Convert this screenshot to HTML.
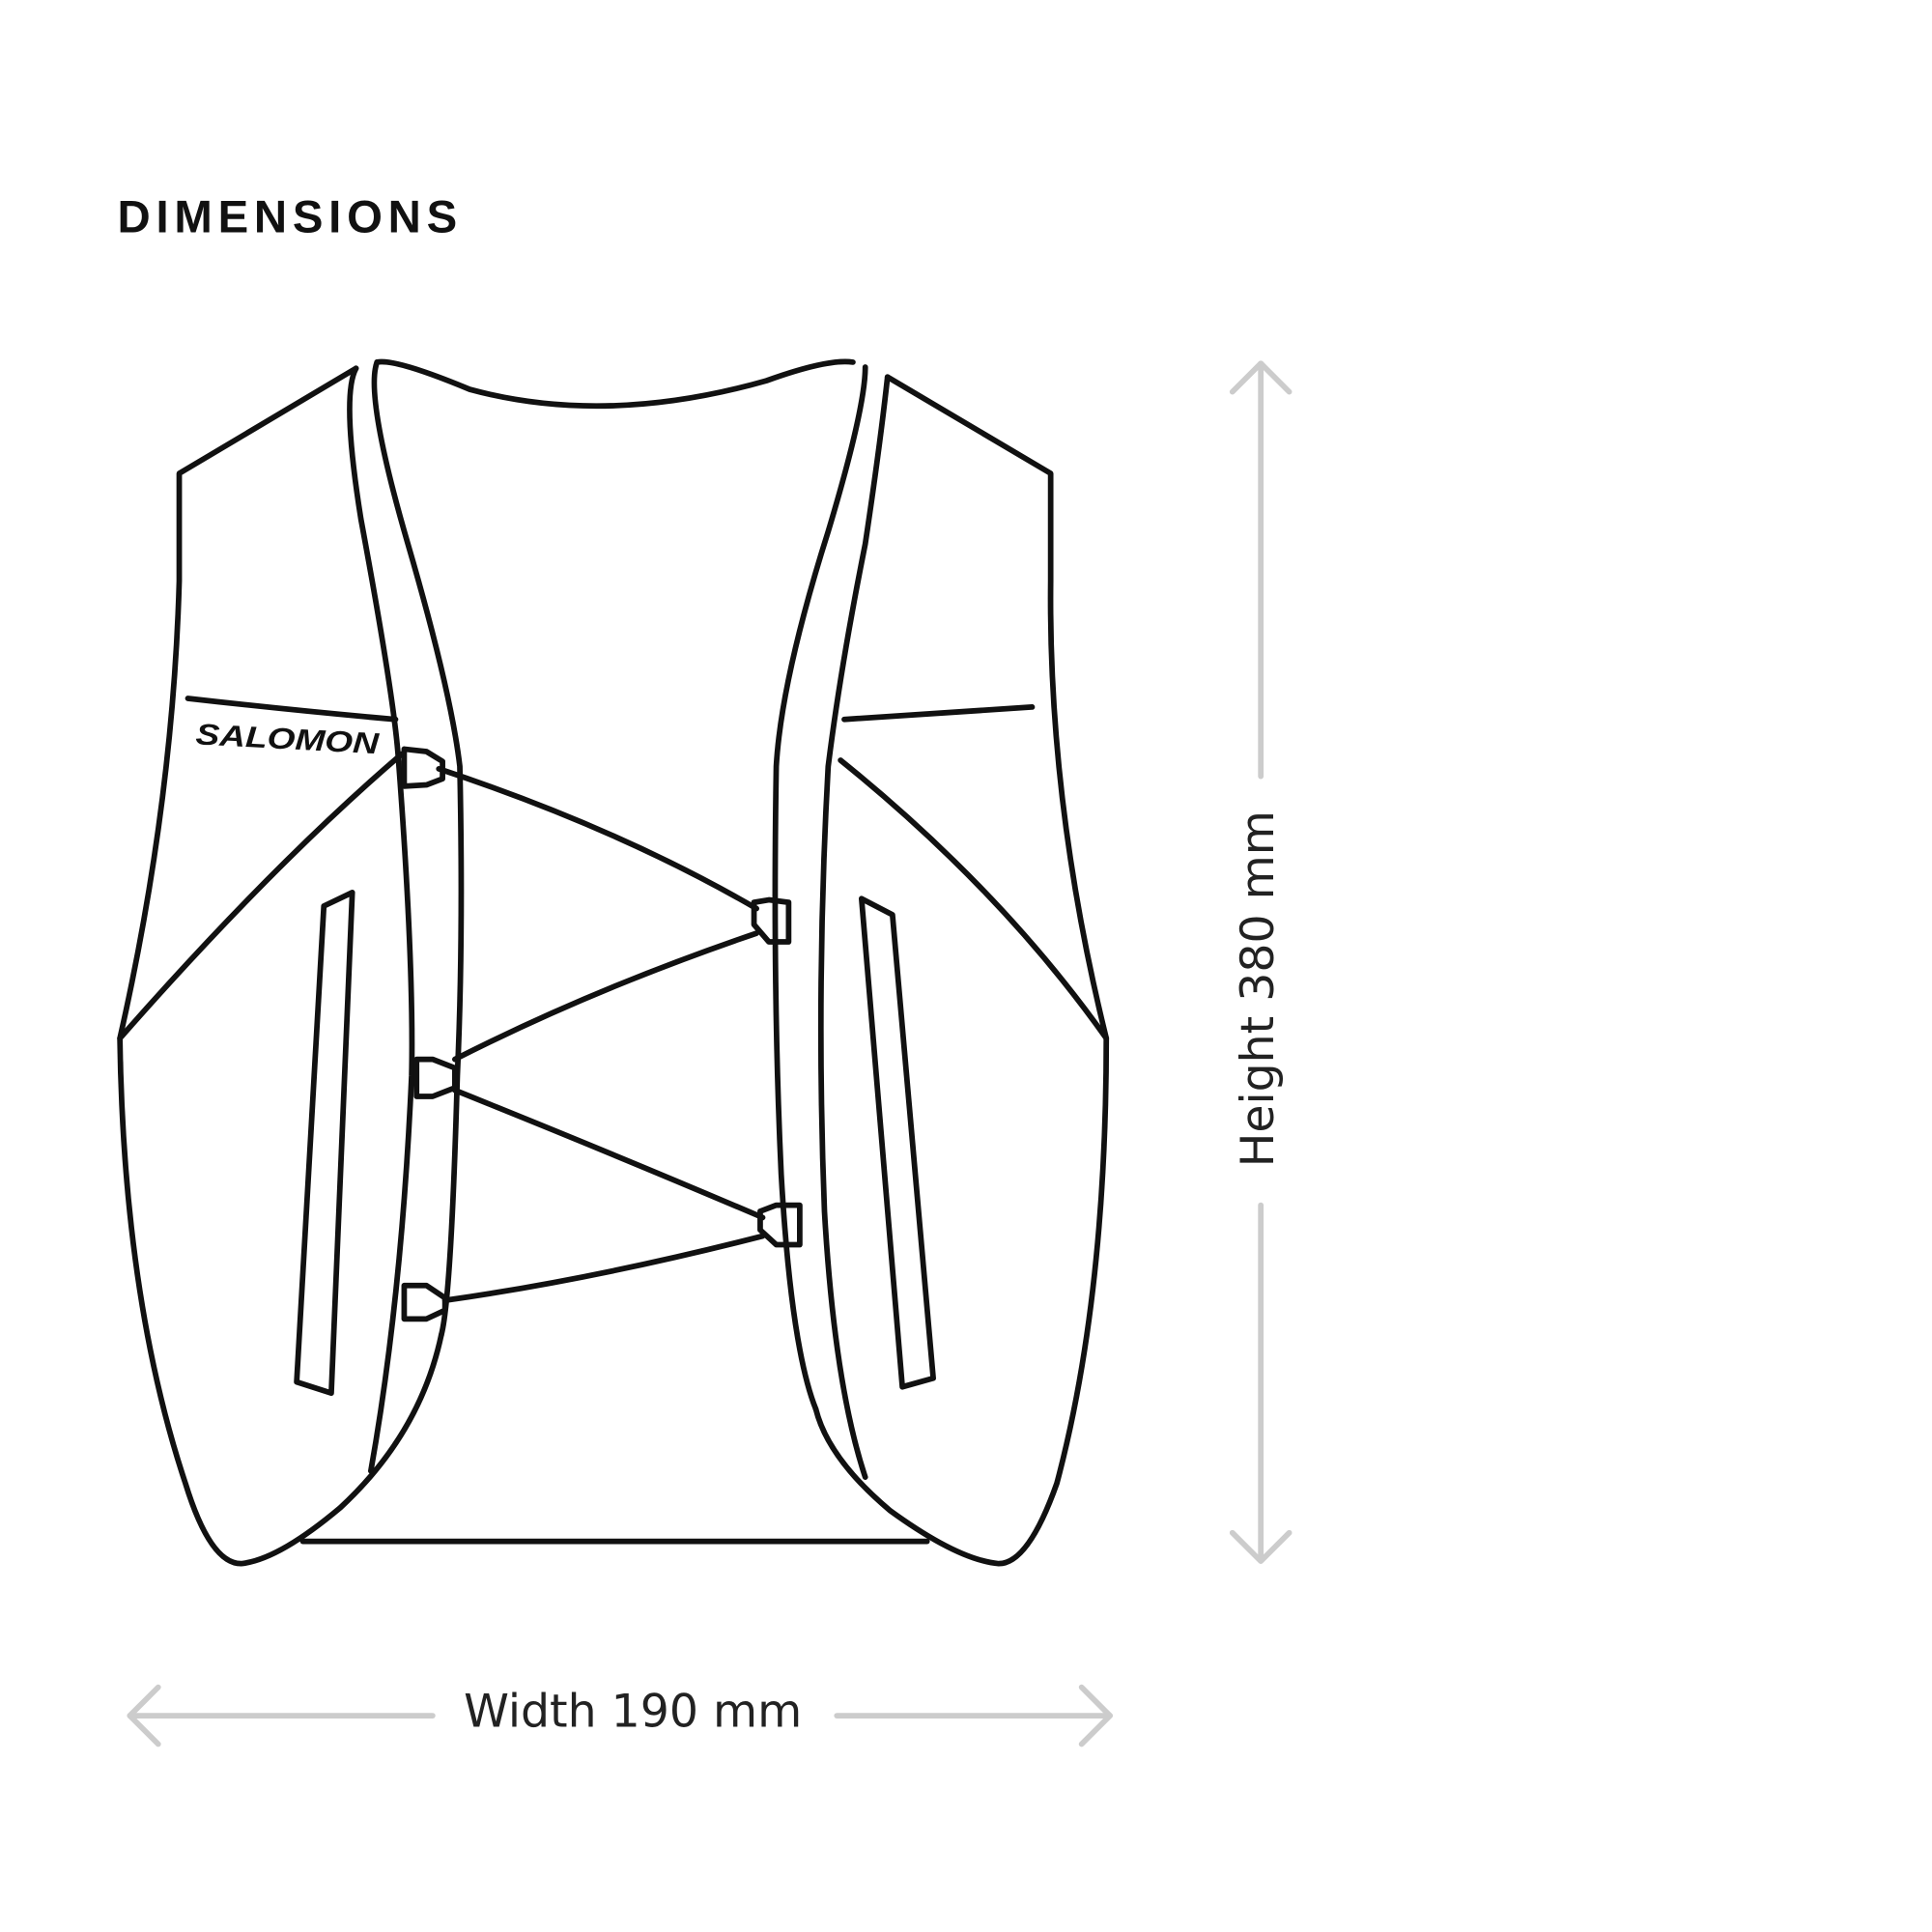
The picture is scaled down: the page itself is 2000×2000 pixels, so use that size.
<!DOCTYPE html>
<html><head><style>html,body{margin:0;padding:0;background:#fff}svg{display:block}</style></head>
<body>
<svg width="2000" height="2000" viewBox="0 0 1563 1563" xmlns="http://www.w3.org/2000/svg">
<text x="95" y="188" font-family="Liberation Sans, sans-serif" font-weight="bold" font-size="37" letter-spacing="4.5" fill="#111">DIMENSIONS</text>
<g fill="none" stroke="#111" stroke-width="4.5" stroke-linejoin="round" stroke-linecap="round">
<path d="M305,293 Q320,290 380,315 Q490,345 620,308 Q670,290 690,293"/>
<path d="M288,298 L145,383 L145,470 Q140,650 97,840 Q100,1050 150,1200 Q170,1265 195,1265 Q225,1262 275,1220 Q340,1160 357,1080"/>
<path d="M288,298 Q276,320 292,420 Q318,560 322,610 Q335,780 333,870 Q325,1050 300,1190"/>
<path d="M305,293 Q295,320 330,440 Q365,560 372,620 Q375,760 370,870 Q365,1050 357,1080"/>
<path d="M700,297 Q700,330 670,430 Q632,550 628,620 Q625,800 632,950 Q640,1090 660,1140"/>
<path d="M718,305 Q712,360 700,440 Q680,540 670,620 Q660,800 667,980 Q675,1120 700,1195"/>
<path d="M718,305 L850,383 L850,470 Q848,650 895,840 Q895,1050 855,1200 Q832,1265 808,1265 Q775,1262 720,1222 Q670,1180 660,1140"/>
<path d="M245,1247 L750,1247"/>
<path d="M152,565 Q240,575 320,582"/>
<path d="M683,582 L835,572"/>
<path d="M97,840 Q220,700 325,610"/>
<path d="M680,615 Q810,720 895,840"/>
<path d="M262,733 L285,722 L268,1127 L240,1118 Z"/>
<path d="M697,727 L722,740 L755,1115 L730,1122 Z"/>
<path d="M355,622 Q500,670 612,735"/>
<path d="M612,755 Q480,800 368,857"/>
<path d="M368,882 Q500,935 617,985"/>
<path d="M617,1000 Q480,1035 360,1052"/>
<path d="M327,606 L345,608 L358,616 L358,630 L345,635 L327,636 Z"/>
<path d="M610,730 L622,728 L638,730 L638,762 L622,762 L610,748 Z"/>
<path d="M337,857 L350,857 L368,864 L368,880 L350,887 L337,887 Z"/>
<path d="M615,980 L628,975 L647,975 L647,1007 L628,1007 L615,995 Z"/>
<path d="M327,1040 L345,1040 L360,1050 L360,1060 L345,1067 L327,1067 Z"/>
</g>
<text x="158" y="602" font-family="Liberation Sans, sans-serif" font-weight="bold" font-style="italic" font-size="24" fill="#111" textLength="148" lengthAdjust="spacingAndGlyphs" transform="rotate(3 158 602)">SALOMON</text>
<g fill="none" stroke="#ccc" stroke-width="4.5" stroke-linecap="round" stroke-linejoin="round">
<path d="M1020,294 L1020,628"/><path d="M1020,975 L1020,1262"/>
<path d="M997,317 L1020,294 L1043,317"/><path d="M997,1240 L1020,1263 L1043,1240"/>
<path d="M105,1388 L350,1388"/><path d="M677,1388 L898,1388"/>
<path d="M128,1365 L105,1388 L128,1411"/><path d="M875,1365 L898,1388 L875,1411"/>
</g>
<text x="512" y="1397" text-anchor="middle" font-family="DejaVu Sans, Liberation Sans, sans-serif" font-size="37" fill="#222">Width 190 mm</text>
<text transform="translate(1030,800) rotate(-90)" text-anchor="middle" font-family="DejaVu Sans, Liberation Sans, sans-serif" font-size="37" fill="#222">Height 380 mm</text>
</svg>
</body></html>
